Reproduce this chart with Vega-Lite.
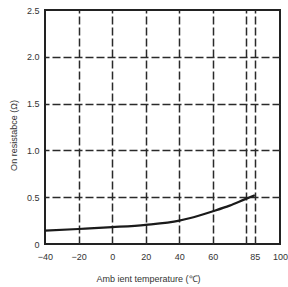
{
  "$schema": "https://vega.github.io/schema/vega-lite/v6.json",
  "autosize": "none",
  "width": 235,
  "height": 234,
  "padding": {"left": 45, "top": 10, "right": 8, "bottom": 43},
  "background": "white",
  "config": {
    "view": {"stroke": "#222", "strokeWidth": 2},
    "axis": {"labelFont": "Liberation Sans", "titleFont": "Liberation Sans", "labelFontSize": 9, "titleFontSize": 9, "labelColor": "#333", "titleColor": "#333", "titleFontWeight": "normal"}
  },
  "data": {"values": [
    {"t": -40, "r": 0.142},
    {"t": -20, "r": 0.16},
    {"t": 0, "r": 0.18},
    {"t": 20, "r": 0.205},
    {"t": 40, "r": 0.25},
    {"t": 46, "r": 0.275},
    {"t": 60, "r": 0.35},
    {"t": 70, "r": 0.41},
    {"t": 80, "r": 0.485},
    {"t": 85, "r": 0.52}
  ]},
  "layer": [
    {
      "mark": {"type": "line", "opacity": 0},
      "encoding": {
        "x": {"field": "t", "type": "quantitative", "scale": {"domain": [-40, 100], "nice": false},
          "axis": {"orient": "top", "values": [-20, 0, 20, 40, 60, 80, 85], "grid": true, "gridColor": "#2a2a2a", "gridDash": [8, 3], "gridWidth": 1.5, "labels": false, "ticks": false, "domain": false, "title": null}},
        "y": {"field": "r", "type": "quantitative", "scale": {"domain": [0, 2.5], "nice": false},
          "axis": {"orient": "right", "values": [0.5, 1.0, 1.5, 2.0], "grid": true, "gridColor": "#2a2a2a", "gridDash": [8, 3], "gridWidth": 1.5, "labels": false, "ticks": false, "domain": false, "title": null}}
      }
    },
    {
      "mark": {"type": "line", "color": "#1a1a1a", "strokeWidth": 2.2, "interpolate": "monotone"},
      "encoding": {
        "x": {"field": "t", "type": "quantitative", "scale": {"domain": [-40, 100], "nice": false},
          "axis": {"orient": "bottom", "values": [-40, -20, 0, 20, 40, 60, 85, 100], "grid": false, "ticks": false, "domain": false, "labelPadding": 8, "labelFlush": false,
            "title": "Amb ient temperature (℃)", "titleX": 103, "titleY": 30, "titleAnchor": null, "titleAlign": "center"}},
        "y": {"field": "r", "type": "quantitative", "scale": {"domain": [0, 2.5], "nice": false},
          "axis": {"orient": "left", "values": [0, 0.5, 1.0, 1.5, 2.0, 2.5], "grid": false, "ticks": false, "domain": false, "labelPadding": 6, "labelFlush": false,
            "labelExpr": "datum.value == 0 ? '0' : format(datum.value, '.1f')",
            "title": "On resistabce (Ω)", "titleX": -32, "titleY": 125, "titleAngle": -90, "titleAlign": "center", "titleBaseline": "middle"}}
      }
    }
  ],
  "resolve": {"axis": {"x": "independent", "y": "independent"}}
}
